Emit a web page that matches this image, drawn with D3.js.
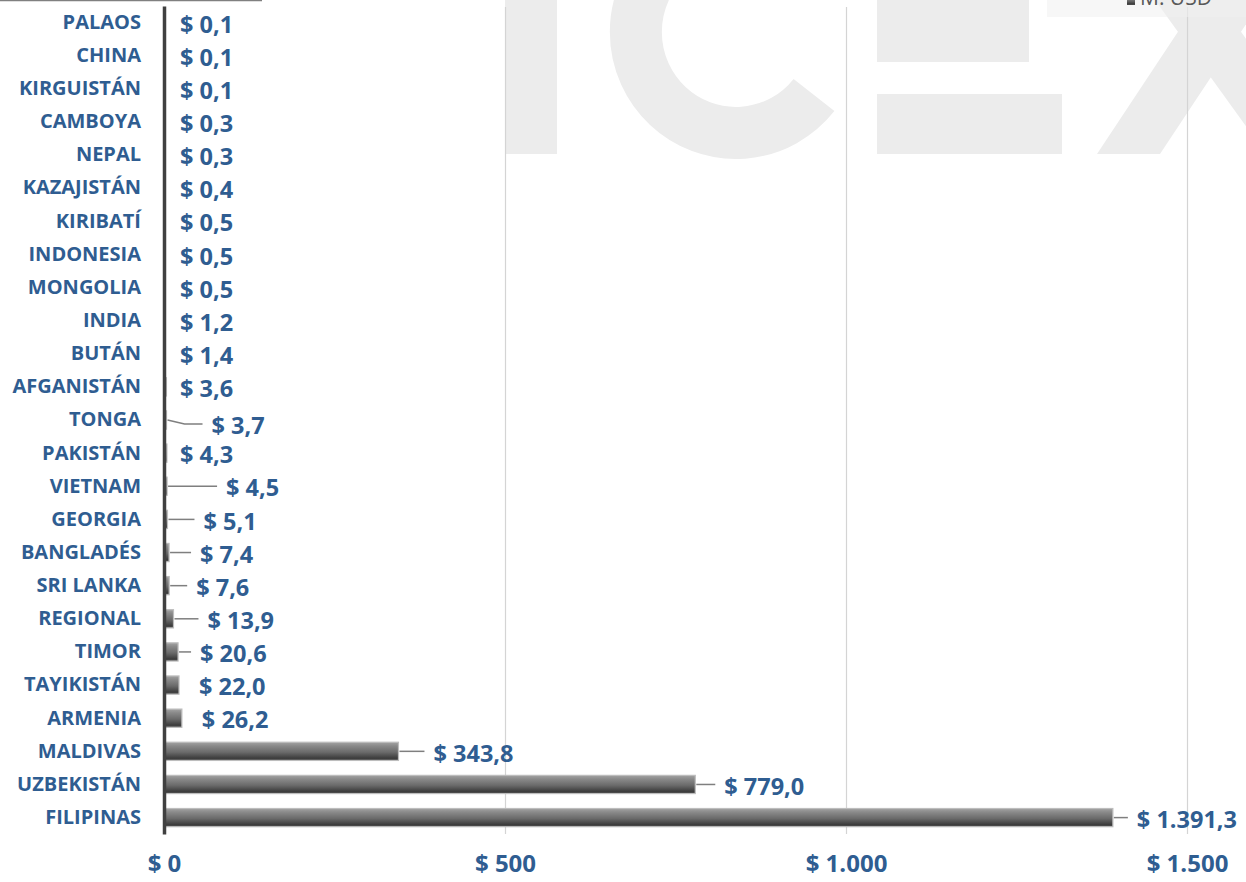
<!DOCTYPE html>
<html>
<head>
<meta charset="utf-8">
<script src="https://cdn.jsdelivr.net/npm/d3@7"></script>
<style>
  body { margin: 0; background: #fff; }
  svg { display: block; font-family: "Open Sans", sans-serif; }
</style>
</head>
<body>
<svg id="chart"></svg>
<script>
// data
const countries = ['PALAOS', 'CHINA', 'KIRGUISTÁN', 'CAMBOYA', 'NEPAL', 'KAZAJISTÁN', 'KIRIBATÍ',
  'INDONESIA', 'MONGOLIA', 'INDIA', 'BUTÁN', 'AFGANISTÁN', 'TONGA', 'PAKISTÁN', 'VIETNAM',
  'GEORGIA', 'BANGLADÉS', 'SRI LANKA', 'REGIONAL', 'TIMOR', 'TAYIKISTÁN', 'ARMENIA',
  'MALDIVAS', 'UZBEKISTÁN', 'FILIPINAS'];
const amounts = [0.1, 0.1, 0.1, 0.3, 0.3, 0.4, 0.5, 0.5, 0.5, 1.2, 1.4, 3.6, 3.7, 4.3, 4.5,
  5.1, 7.4, 7.6, 13.9, 20.6, 22.0, 26.2, 343.8, 779.0, 1391.3];
const xTicks = [0, 500, 1000, 1500];
const seriesName = 'M. USD';

// label placement tweaks (gap from bar end in px, vertical shift)
const labelNudge = {
  'TONGA': [45, 4], 'VIETNAM': [59, 0], 'GEORGIA': [36, 0], 'BANGLADÉS': [31, 0],
  'SRI LANKA': [27, 0], 'REGIONAL': [34, 0], 'TIMOR': [22, 0], 'TAYIKISTÁN': [20, 0],
  'ARMENIA': [20, 0], 'MALDIVAS': [35, 0], 'UZBEKISTÁN': [29, 0], 'FILIPINAS': [24, 0]
};

const width = 1246;
const height = 882;
const blue = '#2f5d91';

const locale = d3.formatLocale({ decimal: ',', thousands: '.', grouping: [3], currency: ['$ ', ''] });
const fmtTick = locale.format('$,.0f');
const fmtVal = locale.format('$,.1f');

const data = countries.map((c, i) => ({ country: c, value: amounts[i] }));

const svg = d3.select('#chart')
  .attr('width', width)
  .attr('height', height);

// gradient for bars
const defs = svg.append('defs');
const grad = defs.append('linearGradient')
  .attr('id', 'barGrad')
  .attr('x1', 0).attr('y1', 0).attr('x2', 0).attr('y2', 1);
[['0%', '#a3a3a3'], ['20%', '#8a8a8a'], ['55%', '#6a6a6a'], ['88%', '#3c3c3c'], ['100%', '#555']]
  .forEach(s => grad.append('stop').attr('offset', s[0]).attr('stop-color', s[1]));

// watermark (ICEX logo, light grey)
const wm = svg.append('g').attr('fill', '#ececec');
wm.append('rect').attr('x', 505).attr('y', 0).attr('width', 52).attr('height', 154);
wm.append('path')
  .attr('d', 'M814,95 A100,101 0 1 1 814,-31')
  .attr('fill', 'none')
  .attr('stroke', '#ececec')
  .attr('stroke-width', 52);
wm.append('rect').attr('x', 877).attr('y', 0).attr('width', 152).attr('height', 62);
wm.append('rect').attr('x', 877).attr('y', 94).attr('width', 185).attr('height', 60);
wm.append('path').attr('d', 'M1097,154 L1160,154 L1262,0 L1199,0 Z');
wm.append('path').attr('d', 'M1155,0 L1218,0 L1329,154 L1266,154 Z');

// scales
const x = d3.scaleLinear()
  .domain([0, 1500])
  .range([164, 1187]);

const y = d3.scaleBand()
  .domain(countries)
  .range([6, 834])
  .paddingInner(0.45)
  .paddingOuter(0.22);

// x axis with gridlines
const xAxis = svg.append('g')
  .attr('transform', 'translate(0, 834)')
  .call(d3.axisBottom(x).tickValues(xTicks).tickSize(-827).tickPadding(21).tickFormat(fmtTick));
xAxis.select('.domain').remove();
xAxis.selectAll('.tick line').attr('stroke', '#d4d4d4').attr('stroke-width', 1.2);
xAxis.selectAll('.tick text')
  .attr('fill', blue)
  .attr('font-size', 24)
  .attr('font-weight', 700)
  .attr('font-family', '"Open Sans", sans-serif');

// bars
svg.append('g')
  .selectAll('rect')
  .data(data)
  .enter()
  .append('rect')
  .attr('x', x(0))
  .attr('y', d => y(d.country))
  .attr('width', d => x(d.value) - x(0))
  .attr('height', y.bandwidth())
  .attr('fill', 'url(#barGrad)')
  .attr('stroke', '#bdbdbd')
  .attr('stroke-width', 1.2);

// y axis
const yAxis = svg.append('g')
  .attr('transform', `translate(${x(0)}, 0)`)
  .call(d3.axisLeft(y).tickSize(0).tickPadding(23));
yAxis.select('.domain').attr('stroke', '#404040').attr('stroke-width', 3.5);
yAxis.selectAll('.tick text')
  .attr('fill', blue)
  .attr('font-size', 20)
  .attr('font-weight', 700)
  .attr('font-family', '"Open Sans", sans-serif');

// value labels + leader lines
const labels = svg.append('g');
data.forEach(d => {
  const end = x(d.value);
  const nudge = labelNudge[d.country] || [null, 0];
  const lx = nudge[0] === null ? Math.max(180, end + 13) : end + nudge[0];
  const cy = y(d.country) + y.bandwidth() / 2;
  const ly = cy + nudge[1];
  if (lx - end > 21) {
    const pts = nudge[1] === 0
      ? [[end + 1, cy], [lx - 9, cy]]
      : [[end + 1, cy], [end + (lx - 9 - end) * 0.5, ly], [lx - 9, ly]];
    labels.append('path')
      .attr('d', d3.line()(pts))
      .attr('fill', 'none')
      .attr('stroke', '#7f7f7f')
      .attr('stroke-width', 1.5);
  }
  labels.append('text')
    .attr('x', lx)
    .attr('y', ly + 2)
    .attr('dy', '0.35em')
    .attr('fill', blue)
    .attr('font-size', 23.5)
    .attr('font-weight', 700)
    .text(fmtVal(d.value));
});

// top-left rule
svg.append('line')
  .attr('x1', 0).attr('x2', 262)
  .attr('y1', 0.5).attr('y2', 0.5)
  .attr('stroke', '#808080')
  .attr('stroke-width', 1.5);

// legend (clipped at top)
const legend = svg.append('g');
legend.append('rect')
  .attr('x', 1047).attr('y', 0)
  .attr('width', 199).attr('height', 17)
  .attr('fill', '#f0f0f0')
  .attr('opacity', 0.55);
legend.append('rect')
  .attr('x', 1127).attr('y', -4)
  .attr('width', 8).attr('height', 9)
  .attr('fill', 'url(#barGrad)');
legend.append('text')
  .attr('x', 1140)
  .attr('y', 5)
  .attr('fill', '#595959')
  .attr('font-size', 21)
  .text(seriesName);
</script>
</body>
</html>
